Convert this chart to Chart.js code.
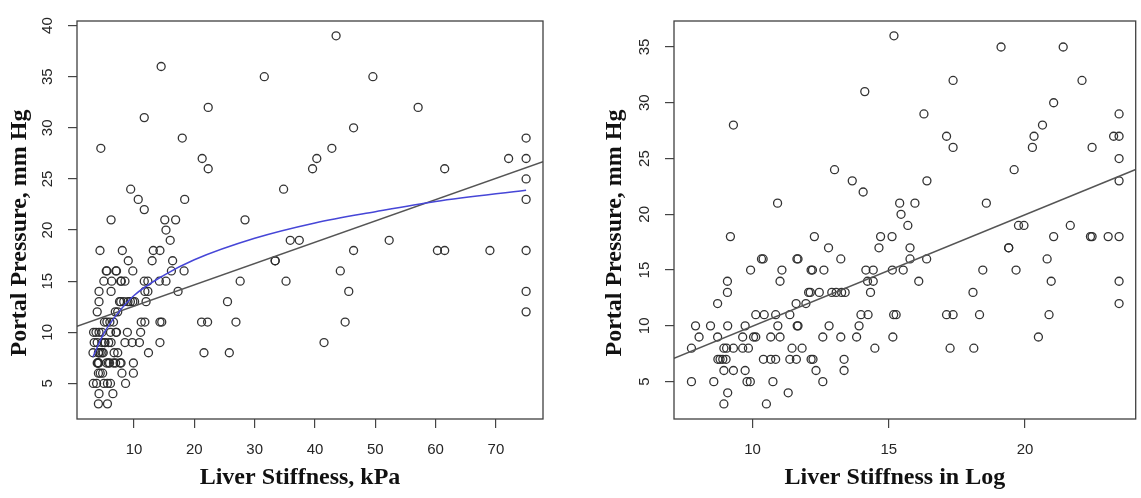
<!DOCTYPE html>
<html><head><meta charset="utf-8">
<script src="https://cdn.jsdelivr.net/npm/chart.js@4/dist/chart.umd.min.js"></script>
<style>
html,body{margin:0;padding:0;background:#fff;}
#wrap{position:relative;width:1141px;height:498px;overflow:hidden;}
#box1{position:absolute;left:0;top:0;width:570px;height:498px;}
#box2{position:absolute;left:570px;top:0;width:571px;height:498px;}
</style></head><body>
<div id="wrap">
<div id="box1"><canvas id="c1" width="570" height="498"></canvas></div>
<div id="box2"><canvas id="c2" width="571" height="498"></canvas></div>
</div>
<script>
// ---------- Left panel: stiffness in kPa ----------
const kpaStiffness = [
43.5,
14.5,
31.6, 49.6,
22.3, 57.1,
11.7,
46.4,
18.0, 75.0,
4.5, 42.8,
21.3, 40.3, 72.1, 75.0,
22.3, 39.6, 61.5,
75.0,
9.45, 34.8,
10.7, 18.4, 75.0,
11.7,
6.2, 15.1, 16.9, 28.4,
15.3,
16.0, 35.9, 37.4, 52.3,
4.36, 8.06, 13.2, 14.3, 46.4, 60.3, 61.5, 69.0, 75.0,
9.05, 13.0, 16.4, 33.4, 33.4,
5.4, 5.5, 7.0, 7.1, 9.8, 16.2, 18.3, 44.2,
5.0, 6.3, 7.8, 7.9, 8.5, 11.7, 12.3, 14.2, 15.3, 27.6, 35.2,
4.2, 6.2, 11.8, 12.3, 17.3, 45.6, 75.0,
4.2, 7.6, 7.8, 8.3, 9.0, 9.4, 9.8, 10.1, 12.0, 25.5,
3.9, 6.9, 7.3, 75.0,
5.1, 5.5, 6.0, 6.6, 11.2, 11.8, 14.3, 14.6, 21.2, 22.2, 26.9, 45.0,
3.3, 3.7, 4.2, 4.7, 6.1, 7.0, 7.1, 8.9, 11.1,
3.4, 3.9, 4.7, 5.1, 5.2, 5.8, 6.2, 8.5, 9.7, 10.9, 14.3, 41.5,
3.2, 4.1, 4.15, 4.4, 4.7, 4.9, 6.7, 7.3, 12.4, 21.6, 25.8,
3.9, 4.0, 4.05, 4.15, 5.45, 5.75, 5.95, 6.6, 6.95, 7.7, 7.85, 9.9,
4.1, 4.4, 4.8, 8.0, 9.9,
3.25, 3.8, 5.0, 5.6, 6.1, 8.6,
4.2, 6.5,
4.1, 5.6
];
const kpaPressure = [
39,
36,
35, 35,
32, 32,
31,
30,
29, 29,
28, 28,
27, 27, 27, 27,
26, 26, 26,
25,
24, 24,
23, 23, 23,
22,
21, 21, 21, 21,
20,
19, 19, 19, 19,
18, 18, 18, 18, 18, 18, 18, 18, 18,
17, 17, 17, 17, 17,
16, 16, 16, 16, 16, 16, 16, 16,
15, 15, 15, 15, 15, 15, 15, 15, 15, 15, 15,
14, 14, 14, 14, 14, 14, 14,
13, 13, 13, 13, 13, 13, 13, 13, 13, 13,
12, 12, 12, 12,
11, 11, 11, 11, 11, 11, 11, 11, 11, 11, 11, 11,
10, 10, 10, 10, 10, 10, 10, 10, 10,
9, 9, 9, 9, 9, 9, 9, 9, 9, 9, 9, 9,
8, 8, 8, 8, 8, 8, 8, 8, 8, 8, 8,
7, 7, 7, 7, 7, 7, 7, 7, 7, 7, 7, 7,
6, 6, 6, 6, 6,
5, 5, 5, 5, 5, 5,
4, 4,
3, 3
];
// straight fit line (ends at the panel edges) and log curve
const kpaLineX = [0.55, 77.8];
const kpaLineY = [10.58, 26.68];
const kpaCurveX = [3.2, 5, 7.5, 10, 15, 20, 30, 40, 50, 60, 75];
const kpaCurveY = [7.6, 9.9, 12.0, 13.6, 15.6, 17.1, 19.2, 20.7, 21.8, 22.8, 23.9];

// ---------- Right panel: stiffness in log ----------
const logStiffness = [
15.19,
19.12, 21.40,
17.36, 22.09,
14.12,
21.05,
16.29, 23.45,
9.30, 20.64,
17.12, 20.33, 23.25, 23.45,
17.36, 20.27, 22.46,
23.45,
13.01, 19.60,
13.66, 16.40, 23.45,
14.06,
10.92, 15.40, 15.96, 18.58,
15.45,
15.70, 19.76, 19.96, 21.66,
9.19, 12.27, 14.70, 15.12, 21.05, 22.40, 22.46, 23.05, 23.45,
12.79, 14.64, 15.78, 19.40, 19.40,
10.33, 10.39, 11.63, 11.67, 13.24, 15.78, 16.39, 20.81,
9.93, 11.08, 12.15, 12.20, 12.62, 14.16, 14.43, 15.13, 15.53, 18.45, 19.67,
9.08, 11.01, 14.22, 14.43, 16.10, 20.96, 23.45,
9.08, 12.06, 12.12, 12.45, 12.91, 13.07, 13.27, 13.40, 14.33, 18.09,
8.72, 11.60, 11.96, 23.45,
10.12, 10.43, 10.85, 11.37, 13.98, 14.24, 15.18, 15.27, 17.12, 17.36, 18.33, 20.88,
7.91, 8.46, 9.09, 9.73, 10.93, 11.64, 11.67, 12.81, 13.91,
8.04, 8.72, 9.64, 10.04, 10.12, 10.67, 11.01, 12.58, 13.24, 13.82, 15.15, 20.49,
7.76, 8.95, 9.05, 9.30, 9.64, 9.85, 11.45, 11.82, 14.49, 17.25, 18.12,
8.73, 8.81, 8.91, 9.03, 10.40, 10.67, 10.85, 11.37, 11.61, 12.15, 12.22, 13.36,
8.95, 9.30, 9.73, 12.33, 13.36,
7.76, 8.58, 9.80, 9.92, 10.75, 12.58,
9.09, 11.31,
8.95, 10.51
];
const logPressure = [
36,
35, 35,
32, 32,
31,
30,
29, 29,
28, 28,
27, 27, 27, 27,
26, 26, 26,
25,
24, 24,
23, 23, 23,
22,
21, 21, 21, 21,
20,
19, 19, 19, 19,
18, 18, 18, 18, 18, 18, 18, 18, 18,
17, 17, 17, 17, 17,
16, 16, 16, 16, 16, 16, 16, 16,
15, 15, 15, 15, 15, 15, 15, 15, 15, 15, 15,
14, 14, 14, 14, 14, 14, 14,
13, 13, 13, 13, 13, 13, 13, 13, 13, 13,
12, 12, 12, 12,
11, 11, 11, 11, 11, 11, 11, 11, 11, 11, 11, 11,
10, 10, 10, 10, 10, 10, 10, 10, 10,
9, 9, 9, 9, 9, 9, 9, 9, 9, 9, 9, 9,
8, 8, 8, 8, 8, 8, 8, 8, 8, 8, 8,
7, 7, 7, 7, 7, 7, 7, 7, 7, 7, 7, 7,
6, 6, 6, 6, 6,
5, 5, 5, 5, 5, 5,
4, 4,
3, 3
];
const logLineX = [7.12, 24.06];
const logLineY = [7.10, 24.02];

// axis text
const yTitle = 'Portal Pressure, mm Hg';
const xTitleLeft = 'Liver Stiffness, kPa';
const xTitleRight = 'Liver Stiffness in Log';

const zip = (xs, ys) => xs.map((x, i) => ({x: x, y: ys[i]}));

const frameAndTitles = {
  id: 'frameAndTitles',
  afterDraw(chart, args, o) {
    const {ctx, chartArea: a} = chart;
    ctx.save();
    ctx.strokeStyle = '#404040';
    ctx.lineWidth = 1.3;
    ctx.strokeRect(a.left, a.top, a.right - a.left, a.bottom - a.top);
    ctx.fillStyle = '#111';
    ctx.font = 'bold 24px "Liberation Serif", "Times New Roman", serif';
    ctx.textAlign = 'center';
    ctx.textBaseline = 'middle';
    ctx.fillText(o.xTitle, (a.left + a.right) / 2 + o.xShift, o.xTitleY);
    ctx.translate(o.yTitleX, (a.top + a.bottom) / 2 + o.yShift);
    ctx.rotate(-Math.PI / 2);
    ctx.fillText(o.yTitle, 0, 0);
    ctx.restore();
  }
};

function makeOptions(c) {
  const tickFont = {family: '"Liberation Sans", Arial, sans-serif', size: 15};
  const grid = {drawOnChartArea: false, drawTicks: true, tickLength: 9, color: '#444', lineWidth: 1.2};
  return {
    responsive: false,
    animation: false,
    layout: {padding: {top: 11, right: c.padRight, left: 0, bottom: 0}},
    plugins: {
      legend: {display: false},
      tooltip: {enabled: false},
      frameAndTitles: {xTitle: c.xTitle, yTitle: yTitle, xShift: -10, yShift: 13, xTitleY: 478, yTitleX: c.yTitleX}
    },
    scales: {
      x: {
        type: 'linear', min: c.xMin, max: c.xMax,
        afterFit: s => { s.height = 79; },
        ticks: {stepSize: c.xStep, includeBounds: false, color: '#262626', font: tickFont, padding: 13, maxRotation: 0, autoSkip: false},
        grid: grid,
        border: {display: false}
      },
      y: {
        type: 'linear', min: c.yMin, max: c.yMax,
        afterFit: s => { s.width = c.yWidth; },
        ticks: {stepSize: 5, includeBounds: false, color: '#262626', font: tickFont, padding: 12,
                minRotation: 90, maxRotation: 90, crossAlign: 'center', autoSkip: false},
        grid: grid,
        border: {display: false}
      }
    }
  };
}

const pointStyle = {
  pointRadius: 4, pointBorderWidth: 1.3,
  pointBorderColor: 'rgba(40,40,40,0.95)', pointBackgroundColor: 'rgba(0,0,0,0)',
  showLine: false
};

new Chart(document.getElementById('c1'), {
  type: 'scatter',
  data: {
    datasets: [
      {data: zip(kpaCurveX, kpaCurveY), showLine: true, pointRadius: 0, borderColor: 'rgb(70,70,215)', borderWidth: 1.5, cubicInterpolationMode: 'monotone'},
      {data: zip(kpaLineX, kpaLineY), showLine: true, pointRadius: 0, borderColor: '#555', borderWidth: 1.5},
      Object.assign({data: zip(kpaStiffness, kpaPressure)}, pointStyle)
    ]
  },
  options: makeOptions({xTitle: xTitleLeft, padRight: 27, yWidth: 77, yTitleX: 20,
                        xMin: 0.55, xMax: 77.8, xStep: 10, yMin: 1.52, yMax: 40.45}),
  plugins: [frameAndTitles]
});

new Chart(document.getElementById('c2'), {
  type: 'scatter',
  data: {
    datasets: [
      {data: zip(logLineX, logLineY), showLine: true, pointRadius: 0, borderColor: '#555', borderWidth: 1.5},
      Object.assign({data: zip(logStiffness, logPressure)}, pointStyle)
    ]
  },
  options: makeOptions({xTitle: xTitleRight, padRight: 1, yWidth: 104, yTitleX: 45,
                        xMin: 7.12, xMax: 24.06, xStep: 5, yMin: 1.65, yMax: 37.33}),
  plugins: [frameAndTitles]
});
</script>
</body></html>
